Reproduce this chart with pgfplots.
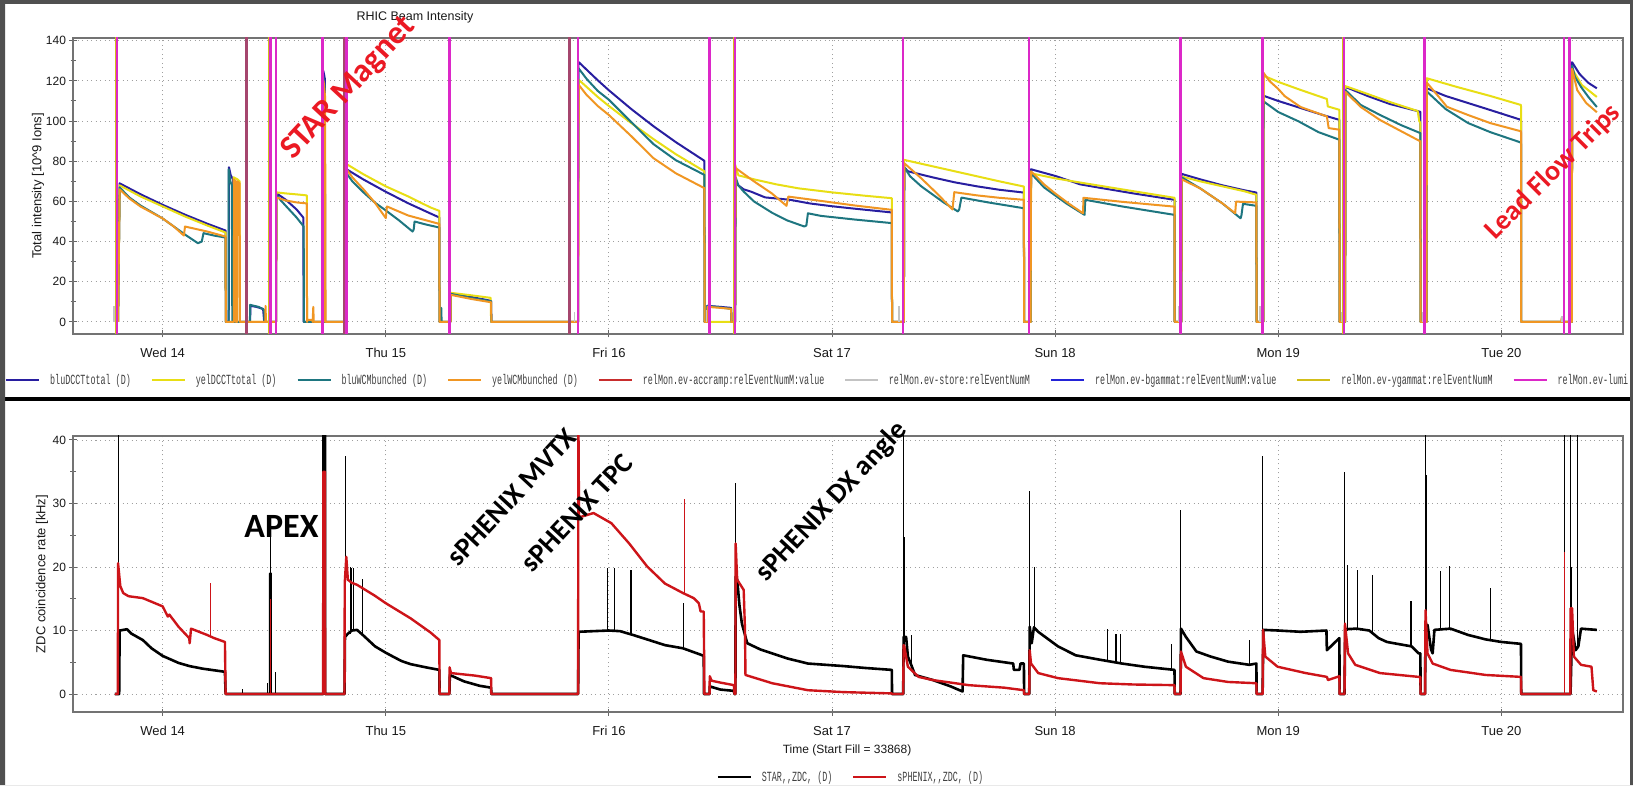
\documentclass[border=0pt]{standalone}
\usepackage{fontspec}
\setmainfont{Liberation Sans}
\newfontfamily\legfont[FakeStretch=0.60]{Liberation Mono}
\newfontfamily\annfont{Carlito}
\usepackage{pgfplots}
\pgfplotsset{compat=1.18}

\definecolor{cBlu}{RGB}{40,30,160}
\definecolor{cYel}{RGB}{232,222,20}
\definecolor{cTeal}{RGB}{30,118,128}
\definecolor{cOra}{RGB}{240,150,35}
\definecolor{cAcc}{RGB}{200,45,45}
\definecolor{cMauve}{RGB}{165,70,110}
\definecolor{cStore}{RGB}{195,195,195}
\definecolor{cBg}{RGB}{35,35,215}
\definecolor{cYg}{RGB}{210,190,25}
\definecolor{cLumi}{RGB}{220,40,200}
\definecolor{cRed}{RGB}{205,20,25}
\definecolor{annRed}{RGB}{235,25,35}
\definecolor{cBorder}{RGB}{80,80,80}

\pgfplotsset{
  rhic/.style={
    scale only axis, width=1550pt,
    xmin=13.598, xmax=20.545,
    xtick={14,15,16,17,18,19,20},
    xticklabels={Wed 14,Thu 15,Fri 16,Sat 17,Sun 18,Mon 19,Tue 20},
    xtick pos=bottom, ytick pos=left,
    tick align=center,
    major tick length=7pt, minor tick length=5pt,
    minor y tick num=1,
    grid=major,
    major grid style={gray!75, line width=0.9pt, dash pattern=on 1pt off 3.5pt},
    axis line style={draw=black!55, line width=1.4pt},
    tick style={black!60, line width=1pt},
    xticklabel style={font=\fontsize{13}{15}\selectfont, text=black!90, yshift=-7pt},
    yticklabel style={font=\fontsize{12}{14}\selectfont, text=black!90},
    /pgf/number format/assume math mode=true,
    ylabel style={font=\fontsize{13}{15}\selectfont, text=black!90, anchor=center},
    legend image code/.code={\draw[#1] (0pt,0pt) -- (33pt,0pt);},
    legend style={draw=none, fill=none, inner sep=0pt,
      font=\legfont\fontsize{14}{16}\selectfont, text=black!75,
      nodes={inner sep=0pt},
      /tikz/every odd column/.append style={column sep=10pt},
      /tikz/every even column/.append style={column sep=20pt}},
    unbounded coords=jump,
    every axis plot/.append style={line join=round},
  }
}

\begin{document}
\begin{tikzpicture}[x=1pt,y=1pt]
\path[use as bounding box] (0,0) rectangle (1633,785);
\fill[white] (0,0) rectangle (1633,785);

% ---------------- top: beam intensity ----------------
\begin{axis}[rhic, at={(73pt,451pt)}, anchor=south west, height=296pt,
  ymin=-6, ymax=141.35, ytick={0,20,...,140},
  ylabel={Total intensity [10\textasciicircum 9 Ions]},
  ylabel style={at={(axis description cs:-0.0225,0.5)}},
  title={RHIC Beam Intensity},
  title style={at={(axis description cs:0.2206,1)}, anchor=center, yshift=15pt,
    font=\fontsize{12.5}{14}\selectfont, text=black!90},
  legend columns=9,
  legend style={at={(axis description cs:0,0)}, anchor=west, xshift=-68pt, yshift=-46pt}]

\addlegendimage{cBlu, line width=2pt}\addlegendentry{bluDCCTtotal (D)}
\addlegendimage{cYel, line width=2pt}\addlegendentry{yelDCCTtotal (D)}
\addlegendimage{cTeal, line width=2pt}\addlegendentry{bluWCMbunched (D)}
\addlegendimage{cOra, line width=2pt}\addlegendentry{yelWCMbunched (D)}
\addlegendimage{cAcc, line width=2pt}\addlegendentry{relMon.ev-accramp:relEventNumM:value}
\addlegendimage{cStore, line width=1.5pt}\addlegendentry{relMon.ev-store:relEventNumM}
\addlegendimage{cBg, line width=2pt}\addlegendentry{relMon.ev-bgammat:relEventNumM:value}
\addlegendimage{cYg, line width=2pt}\addlegendentry{relMon.ev-ygammat:relEventNumM}
\addlegendimage{cLumi, line width=2pt}\addlegendentry{relMon.ev-lumi:relEventNumM}

% bluDCCTtotal
\addplot[cBlu, line width=2pt, forget plot] coordinates {
(13.800,0)(13.807,69)(13.90,63.6)(14.0,58.3)(14.1,53.4)(14.2,48.9)(14.282,45.5)(14.283,0)
(14.296,0)(14.297,77)(14.305,73)(14.315,71)(14.316,0)
(14.392,0)(14.393,8)(14.42,7.5)(14.45,6.5)(14.455,0)
(14.508,0)(14.510,64)(14.55,61)(14.60,56)(14.63,52)(14.632,0)
(14.719,0)(14.720,125)(14.727,121)(14.728,0)
(14.823,0)(14.824,76)(14.9,70.9)(15.0,64.8)(15.1,59.1)(15.2,54)(15.240,52)(15.241,0)
(15.290,0)(15.291,14)(15.38,12.5)(15.472,10.5)(15.473,0)
(15.862,0)(15.863,129.5)(15.95,120.3)(16.0,115.3)(16.1,106)(16.2,97.4)(16.3,89.5)(16.428,80.2)(16.429,0)
(16.440,0)(16.441,8)(16.5,7.5)(16.548,7)(16.549,0)
(16.566,0)(16.568,70)(16.58,68)(16.604,66)(16.636,64.9)(16.7,62)(16.812,60.8)(16.9,59)(17.0,57.6)(17.1,56.4)(17.268,54.5)(17.269,0)
(17.322,0)(17.324,77)(17.34,75)(17.45,72)(17.55,69.5)(17.65,67.5)(17.75,65.8)(17.860,64.4)(17.861,0)
(17.890,0)(17.892,76)(18.0,72.7)(18.112,68.5)(18.2,66.8)(18.35,64)(18.535,60.8)(18.536,0)
(18.566,0)(18.567,73.7)(18.65,71)(18.75,68)(18.85,65.5)(18.902,64.4)(18.903,0)
(18.933,0)(18.934,112.6)(19.0,110)(19.1,106.5)(19.2,103)(19.274,100.6)(19.275,0)
(19.300,0)(19.301,117)(19.4,112.5)(19.5,108.5)(19.637,104.6)(19.638,0)
(19.665,0)(19.666,116.3)(19.75,112.5)(19.85,109)(19.95,105.5)(20.088,100.6)(20.089,0)
(20.316,0)(20.317,129.3)(20.35,123.5)(20.39,119)(20.428,116.3)
};
% yelDCCTtotal
\addplot[cYel, line width=2pt, forget plot] coordinates {
(13.800,0)(13.807,68)(13.9,62.5)(14.0,57.5)(14.1,52.5)(14.2,48)(14.282,44.5)(14.283,0)
(14.317,0)(14.318,72)(14.335,71)(14.345,70)(14.346,0)
(14.508,0)(14.510,64.5)(14.55,64)(14.60,63.5)(14.646,63)(14.647,0)
(14.823,0)(14.824,78.6)(14.9,73.5)(15.0,67.5)(15.1,62.5)(15.2,57)(15.240,55.3)(15.241,0)
(15.290,0)(15.291,14.5)(15.38,13.3)(15.470,12)(15.472,0)
(15.862,0)(15.864,120.6)(15.95,112)(16.0,107.5)(16.1,99)(16.2,91)(16.3,83.5)(16.428,75)(16.429,0)
(16.565,0)(16.566,78.2)(16.58,73)(16.65,71)(16.75,68.5)(16.85,66.5)(17.0,64.5)(17.15,62.8)(17.268,61.6)(17.269,0)
(17.320,0)(17.322,80.7)(17.45,77.5)(17.55,75)(17.65,72.5)(17.75,70)(17.860,67.4)(17.861,0)
(17.891,0)(17.892,74)(18.0,71.5)(18.112,69.4)(18.3,66)(18.535,61.8)(18.536,0)
(18.566,0)(18.567,72.4)(18.65,70)(18.75,67.5)(18.85,65)(18.902,63.3)(18.903,0)
(18.933,0)(18.934,122.6)(19.0,119.5)(19.1,115.5)(19.218,111)(19.222,107.3)(19.274,105.6)(19.275,0)
(19.300,0)(19.301,117.4)(19.4,113.5)(19.5,109.5)(19.625,105)(19.632,100)(19.637,99)(19.638,0)
(19.665,0)(19.666,121.3)(19.8,117)(19.95,112.5)(20.088,108)(20.089,0)
(20.316,0)(20.317,126)(20.36,118)(20.428,112)
};
% bluWCMbunched
\addplot[cTeal, line width=2pt, forget plot] coordinates {
(13.800,0)(13.807,67)(13.85,62)(13.9,58)(14.0,51.5)(14.05,47.5)(14.1,43.5)(14.158,39.2)(14.175,40)(14.183,44.2)(14.23,43)(14.282,42)(14.283,0)
(14.295,0)(14.296,76)(14.303,70)(14.310,68)(14.312,0)
(14.391,0)(14.392,8.5)(14.43,7.5)(14.455,6)(14.456,0)
(14.508,0)(14.510,63)(14.55,58)(14.60,52)(14.632,47.5)(14.633,0)
(14.719,0)(14.720,122)(14.726,118)(14.727,0)
(14.823,0)(14.824,74)(14.85,70)(14.9,64.5)(14.95,59.5)(15.0,55.5)(15.06,50.5)(15.12,45)(15.125,46)(15.129,50)(15.18,48.5)(15.240,47)(15.241,0)
(15.248,0)(15.249,7)(15.250,0)
(15.290,0)(15.291,14)(15.38,12)(15.472,10.3)(15.473,0)
(15.862,0)(15.863,126.4)(15.9,121)(15.95,115)(16.0,110.6)(16.1,99.5)(16.2,88.5)(16.3,80.5)(16.428,73.2)(16.429,0)
(16.440,0)(16.441,8)(16.5,7.2)(16.548,6.5)(16.549,0)
(16.566,0)(16.568,72)(16.58,68)(16.604,64.9)(16.65,60)(16.732,54.3)(16.8,50.5)(16.876,47.5)(16.885,48)(16.892,54.1)(16.95,52.8)(17.1,51)(17.268,49.2)(17.269,0)
(17.322,0)(17.324,77)(17.35,72.5)(17.4,67.5)(17.45,63.5)(17.5,59.5)(17.564,55)(17.57,56)(17.580,61.9)(17.7,59.5)(17.860,56.6)(17.861,0)
(17.890,0)(17.892,74)(17.95,67)(18.0,63)(18.05,59)(18.1,55.5)(18.132,53.3)(18.135,60.8)(18.3,57.5)(18.535,53.3)(18.536,0)
(18.566,0)(18.567,72)(18.65,66.5)(18.75,59)(18.831,51.6)(18.835,53)(18.842,58.8)(18.902,57.8)(18.903,0)
(18.933,0)(18.934,109.8)(19.0,104.5)(19.092,99.8)(19.18,94.5)(19.274,90.7)(19.275,0)
(19.300,0)(19.301,115.4)(19.37,108)(19.455,103.1)(19.55,98)(19.637,94)(19.638,0)
(19.665,0)(19.666,114.7)(19.75,106)(19.851,99)(19.95,94.5)(20.088,89.3)(20.089,0)
(20.316,0)(20.317,127.6)(20.33,122)(20.357,117)(20.39,112)(20.428,107)
};
% yelWCMbunched
\addplot[cOra, line width=2pt, forget plot] coordinates {
(13.800,0)(13.807,66)(13.85,61.5)(13.9,57.5)(14.0,51.5)(14.05,47.5)(14.095,43)(14.10,47.5)(14.2,45)(14.282,42.5)(14.283,0)
(14.319,0)(14.320,71)(14.327,70)(14.328,0)(14.334,0)(14.335,70)(14.345,69)(14.346,0)
(14.460,0)(14.461,8)(14.463,0)
(14.508,0)(14.510,62)(14.55,60.5)(14.60,59.5)(14.646,59)(14.647,0)(14.648,1)(14.67,1)(14.672,0)(14.675,7.5)(14.677,0)
(14.720,0)(14.721,120)(14.728,112)(14.730,0)
(14.823,0)(14.824,76)(14.85,72)(14.9,66)(14.95,59.5)(15.0,51.7)(15.005,57.5)(15.1,53)(15.2,50)(15.240,48.8)(15.241,0)
(15.290,0)(15.291,13.5)(15.38,11.5)(15.472,9.8)(15.473,0)
(15.862,0)(15.864,118.1)(15.9,113)(15.95,107.5)(16.0,103)(16.1,92.5)(16.2,81.5)(16.3,74)(16.428,66.6)(16.429,0)
(16.442,0)(16.443,7.5)(16.5,7)(16.548,6.5)(16.549,0)
(16.566,0)(16.568,76.6)(16.65,70)(16.73,64)(16.796,57.8)(16.804,62.4)(16.9,61)(17.0,59.5)(17.1,58)(17.268,55.8)(17.269,0)
(17.322,0)(17.324,79)(17.4,71.5)(17.47,64)(17.540,56)(17.548,64.6)(17.65,63)(17.75,61.8)(17.860,60.8)(17.861,0)
(17.890,0)(17.892,75)(17.95,68.5)(18.0,64)(18.06,59)(18.125,54.1)(18.127,61.8)(18.3,59.8)(18.535,57.4)(18.536,0)
(18.566,0)(18.567,71)(18.65,66.5)(18.75,59)(18.807,54.1)(18.811,59.9)(18.902,59.5)(18.903,0)
(18.933,0)(18.934,124)(18.96,120)(19.0,116)(19.029,112.4)(19.1,107)(19.218,102.3)(19.226,96.5)(19.274,95.7)(19.275,0)
(19.300,0)(19.301,114.5)(19.37,107)(19.455,100.6)(19.55,95)(19.637,89.9)(19.638,0)
(19.665,0)(19.666,119.1)(19.72,112)(19.756,107.1)(19.851,103)(19.95,99)(20.088,94.9)(20.089,0)
(20.268,0)(20.270,2)(20.272,0)
(20.316,0)(20.317,126)(20.34,115.4)(20.38,109)(20.428,104.4)
};
% relMon.ev-accramp
\addplot[cMauve, line width=3pt, forget plot] coordinates {
(14.375,-10)(14.375,150)(14.375,nan)
(14.817,-10)(14.817,150)(14.817,nan)
(15.824,-10)(15.824,150)
};
% relMon.ev-store
\addplot[cStore, line width=1.2pt, forget plot] coordinates {
(13.782,0)(13.782,8)(13.782,nan)
(15.846,0)(15.846,5)(15.846,nan)
(16.437,0)(16.437,6)(16.437,nan)
(17.300,0)(17.300,8)(17.300,nan)
(18.553,0)(18.553,8)(18.553,nan)
(18.918,0)(18.918,8)(18.918,nan)
(19.283,0)(19.283,5)(19.283,nan)
(19.645,0)(19.645,5)(19.645,nan)
(20.272,0)(20.272,3)
};
% relMon.ev-ygammat
\addplot[cYg, line width=1.6pt, forget plot] coordinates {
(13.788,-10)(13.788,150)(13.788,nan)
(14.475,-10)(14.475,150)(14.475,nan)
(16.560,-10)(16.560,150)(16.560,nan)
(19.288,-10)(19.288,150)
};
% relMon.ev-lumi
\addplot[cLumi, line width=2.6pt, forget plot] coordinates {
(13.795,-10)(13.795,150)(13.795,nan)
(14.483,-10)(14.483,150)(14.483,nan)
(14.508,-10)(14.508,150)(14.508,nan)
(14.716,-10)(14.716,150)(14.716,nan)
(14.823,-10)(14.823,150)(14.823,nan)
(15.285,-10)(15.285,150)(15.285,nan)
(15.862,-10)(15.862,150)(15.862,nan)
(16.451,-10)(16.451,150)(16.451,nan)
(16.566,-10)(16.566,150)(16.566,nan)
(17.318,-10)(17.318,150)(17.318,nan)
(17.883,-10)(17.883,150)(17.883,nan)
(18.562,-10)(18.562,150)(18.562,nan)
(18.930,-10)(18.930,150)(18.930,nan)
(19.294,-10)(19.294,150)(19.294,nan)
(19.656,-10)(19.656,150)(19.656,nan)
(20.281,-10)(20.281,150)(20.281,nan)
(20.306,-10)(20.306,150)
};
\end{axis}

% ---------------- bottom: ZDC rates ----------------
\begin{axis}[rhic, at={(73pt,73pt)}, anchor=south west, height=276pt,
  ymin=-2.83, ymax=40.63, ytick={0,10,...,40},
  ylabel={ZDC coincidence rate [kHz]},
  ylabel style={at={(axis description cs:-0.0200,0.5)}},
  xlabel={Time (Start Fill = 33868)},
  xlabel style={at={(axis description cs:0.4994,0)}, anchor=center, yshift=-38pt,
    font=\fontsize{12}{14}\selectfont, text=black!90},
  legend columns=2,
  legend style={at={(axis description cs:0.5013,0)}, anchor=center, yshift=-65pt}]

\addlegendimage{black, line width=2pt}\addlegendentry{STAR,,ZDC, (D)}
\addlegendimage{cRed, line width=2pt}\addlegendentry{sPHENIX,,ZDC, (D)}

% STAR ZDC
\addplot[black, line width=2.6pt, forget plot] coordinates {
(13.786,0)(13.805,0)(13.807,10)(13.84,10.2)(13.86,9.5)(13.911,8.5)(13.95,7.2)(14.0,6.0)(14.071,4.9)(14.12,4.4)(14.178,4.0)(14.279,3.5)(14.282,0)
(14.482,0)(14.482,19)(14.484,19)(14.484,0)
(14.720,0)(14.720,45)(14.728,45)(14.728,0)
(14.815,0)(14.817,9)(14.83,9.5)(14.848,10)(14.871,10.1)(14.9,9.2)(14.952,7.5)(15.0,6.5)(15.032,5.9)(15.07,5.2)(15.112,4.7)(15.18,4.2)(15.240,3.8)(15.241,0)
(15.285,0)(15.287,3)(15.35,2.0)(15.42,1.3)(15.472,1.0)(15.473,0)
(15.862,0)(15.864,9.8)(15.93,9.9)(16.0,10.0)(16.05,9.9)(16.108,9.3)(16.171,8.6)(16.251,7.7)(16.332,7.2)(16.411,6.2)(16.425,6.0)(16.426,0)
(16.451,0)(16.452,1.2)(16.5,0.7)(16.56,0.5)(16.563,0)
(16.567,0)(16.568,18.5)(16.575,18)(16.585,14)(16.596,11.1)(16.62,8.0)(16.68,7.0)(16.732,6.4)(16.8,5.6)(16.892,4.8)(17.052,4.4)(17.15,4.1)(17.268,3.8)(17.269,0)
(17.319,0)(17.321,9)(17.332,9.0)(17.34,5.9)(17.356,4.5)(17.372,3.0)(17.452,2.2)(17.532,1.2)(17.585,0.4)(17.588,6.1)(17.692,5.4)(17.812,4.8)(17.815,3.8)(17.84,3.8)(17.845,4.8)(17.860,4.8)(17.861,0)
(17.884,0)(17.886,10.6)(17.895,8.0)(17.905,10.5)(17.924,9.8)(18.013,7.5)(18.092,6.1)(18.201,5.4)(18.3,4.8)(18.4,4.3)(18.535,3.8)(18.536,0)
(18.562,0)(18.564,10.3)(18.586,9.0)(18.633,6.7)(18.697,5.9)(18.775,5.1)(18.870,4.6)(18.902,4.8)(18.903,0)
(18.930,0)(18.933,10.1)(19.0,10.0)(19.1,9.8)(19.216,10.0)(19.218,6.9)(19.25,8.0)(19.274,8.8)(19.275,0)
(19.297,0)(19.300,10.2)(19.35,10.3)(19.408,10.0)(19.45,8.8)(19.487,8.2)(19.55,7.8)(19.598,7.5)(19.629,6.4)(19.637,6.4)(19.638,0)
(19.658,0)(19.660,10.9)(19.669,10.9)(19.685,7)(19.692,6.4)(19.700,10.1)(19.772,10.3)(19.851,9.3)(19.930,8.6)(20.0,8.2)(20.088,7.9)(20.089,0)
(20.310,0)(20.317,10.3)(20.333,6.9)(20.345,7.5)(20.357,10.3)(20.39,10.2)(20.428,10.1)
};
% STAR ZDC spikes
\addplot[black, line width=1.1pt, forget plot] coordinates {
(13.800,0)(13.800,45)(13.800,nan)
(14.359,0)(14.359,0.8)(14.359,nan)
(14.471,0)(14.471,1.8)(14.471,nan)
(14.483,0)(14.483,26)(14.483,nan)
(14.507,0)(14.507,3.5)(14.507,nan)
(14.820,9)(14.820,37.5)(14.820,nan)
(14.840,9.5)(14.840,20)(14.840,nan)
(14.848,10)(14.848,19.8)(14.848,nan)
(14.856,10)(14.856,19.8)(14.856,nan)
(14.896,9.2)(14.896,18.1)(14.896,nan)
(15.862,0)(15.862,45)(15.862,nan)
(15.995,10)(15.995,19.8)(15.995,nan)
(16.024,10)(16.024,19.8)(16.024,nan)
(16.099,9.4)(16.099,19.5)(16.099,nan)
(16.336,7.2)(16.336,14.3)(16.336,nan)
(16.568,18)(16.568,33.3)(16.568,nan)
(17.319,0)(17.319,45)(17.319,nan)
(17.324,9)(17.324,24.8)(17.324,nan)
(17.356,4.5)(17.356,9.3)(17.356,nan)
(17.884,10)(17.884,31.9)(17.884,nan)
(17.908,10)(17.908,20)(17.908,nan)
(18.235,5)(18.235,10.2)(18.235,nan)
(18.273,4.9)(18.273,9.4)(18.273,nan)
(18.294,4.8)(18.294,9.4)(18.294,nan)
(18.520,3.8)(18.520,7.8)(18.520,nan)
(18.562,10)(18.562,28.9)(18.562,nan)
(18.873,4.6)(18.873,8.5)(18.873,nan)
(18.930,10)(18.930,37.5)(18.930,nan)
(19.298,10)(19.298,34.9)(19.298,nan)
(19.309,10)(19.309,20.3)(19.309,nan)
(19.356,10.3)(19.356,19.5)(19.356,nan)
(19.424,9.8)(19.424,18.7)(19.424,nan)
(19.595,7.5)(19.595,14.7)(19.595,nan)
(19.658,0)(19.658,45)(19.658,nan)
(19.662,10.9)(19.662,34.5)(19.662,nan)
(19.729,10.2)(19.729,19.3)(19.729,nan)
(19.769,10.3)(19.769,20.1)(19.769,nan)
(19.950,8.5)(19.950,16.7)(19.950,nan)
(20.281,0)(20.281,45)(20.281,nan)
(20.309,0)(20.309,45)(20.309,nan)
(20.313,10)(20.313,20)(20.313,nan)
(20.341,7.5)(20.341,45)
};
% sPHENIX ZDC
\addplot[cRed, line width=2.4pt, forget plot] coordinates {
(13.786,0)(13.799,0)(13.800,20.6)(13.81,17)(13.823,15.9)(13.847,15.4)(13.911,15.1)(14.0,13.8)(14.023,12.2)(14.03,12.5)(14.071,10.6)(14.119,8.8)(14.121,8.0)(14.127,10.3)(14.199,9.3)(14.231,8.8)(14.279,8.2)(14.282,0)
(14.719,0)(14.720,35)(14.727,35)(14.728,0)
(14.815,0)(14.816,17.5)(14.823,21.6)(14.83,18)(14.848,17.5)(14.871,17.2)(14.95,15.5)(15.0,14.3)(15.112,11.9)(15.2,9.7)(15.240,8.5)(15.241,0)
(15.285,0)(15.286,4.2)(15.292,3.3)(15.4,2.9)(15.472,2.5)(15.473,0)
(15.862,0)(15.863,45)(15.866,28)(15.875,27.9)(15.931,28.5)(16.011,26.9)(16.091,23.7)(16.171,20.1)(16.251,17.4)(16.332,15.9)(16.380,15.1)(16.403,14.3)(16.411,13)(16.425,13)(16.428,0)
(16.451,0)(16.452,2.8)(16.46,2.1)(16.5,1.8)(16.56,1.4)(16.563,0)
(16.567,0)(16.568,23.7)(16.575,18)(16.604,16.4)(16.610,10)(16.612,3.0)(16.732,1.7)(16.892,0.6)(17.052,0.3)(17.268,0.1)(17.269,0)
(17.319,0)(17.321,7.7)(17.324,7.5)(17.340,4.3)(17.388,2.7)(17.452,2.2)(17.612,1.4)(17.772,1.0)(17.860,0.6)(17.861,0)
(17.884,0)(17.886,6.9)(17.892,4.8)(17.924,3.3)(18.013,2.5)(18.201,1.7)(18.35,1.5)(18.535,1.4)(18.536,0)
(18.562,0)(18.564,6.7)(18.586,4.3)(18.665,2.5)(18.775,1.9)(18.902,1.7)(18.903,0)
(18.930,0)(18.932,10.1)(18.942,5.9)(18.997,4.3)(19.123,3.3)(19.218,2.7)(19.223,2.2)(19.274,2.8)(19.275,0)
(19.297,0)(19.299,11.1)(19.313,6.4)(19.345,4.6)(19.456,3.3)(19.629,2.7)(19.637,2.7)(19.638,0)
(19.658,0)(19.660,13.2)(19.669,6.4)(19.692,4.8)(19.772,3.8)(19.930,3.0)(20.088,2.7)(20.089,0)
(20.309,0)(20.310,13.5)(20.317,13.5)(20.325,5.9)(20.357,4.6)(20.404,4.3)(20.412,0.6)(20.428,0.4)
};
% sPHENIX ZDC spikes
\addplot[cRed, line width=1.1pt, forget plot] coordinates {
(14.215,9)(14.215,17.5)(14.215,nan)
(14.483,0)(14.483,15)(14.483,nan)
(16.339,15.9)(16.339,30.7)(16.339,nan)
(20.281,0)(20.281,22.4)
};
\end{axis}

% annotations
\node[annRed, rotate=47, font=\annfont\bfseries\fontsize{33}{33}\selectfont] at (349,696.5) {STAR Magnet};
\node[annRed, rotate=45, font=\annfont\bfseries\fontsize{28}{28}\selectfont] at (1553,613) {Lead Flow Trips};
\node[black, font=\annfont\bfseries\fontsize{34}{34}\selectfont] at (281.5,259) {APEX};
\node[black, rotate=47, font=\annfont\bfseries\fontsize{28}{28}\selectfont] at (512,288) {sPHENIX MVTX};
\node[black, rotate=47, font=\annfont\bfseries\fontsize{28}{28}\selectfont] at (577,272) {sPHENIX TPC};
\node[black, rotate=47, font=\annfont\bfseries\fontsize{28}{28}\selectfont] at (832,283) {sPHENIX DX angle};

% panel separator and screenshot frame
\draw[black, line width=3.5pt] (5,386) -- (1630,386);
\fill[cBorder, even odd rule] (0,0) rectangle (1633,785) (5,0) rectangle (1630,781);
\end{tikzpicture}
\end{document}
